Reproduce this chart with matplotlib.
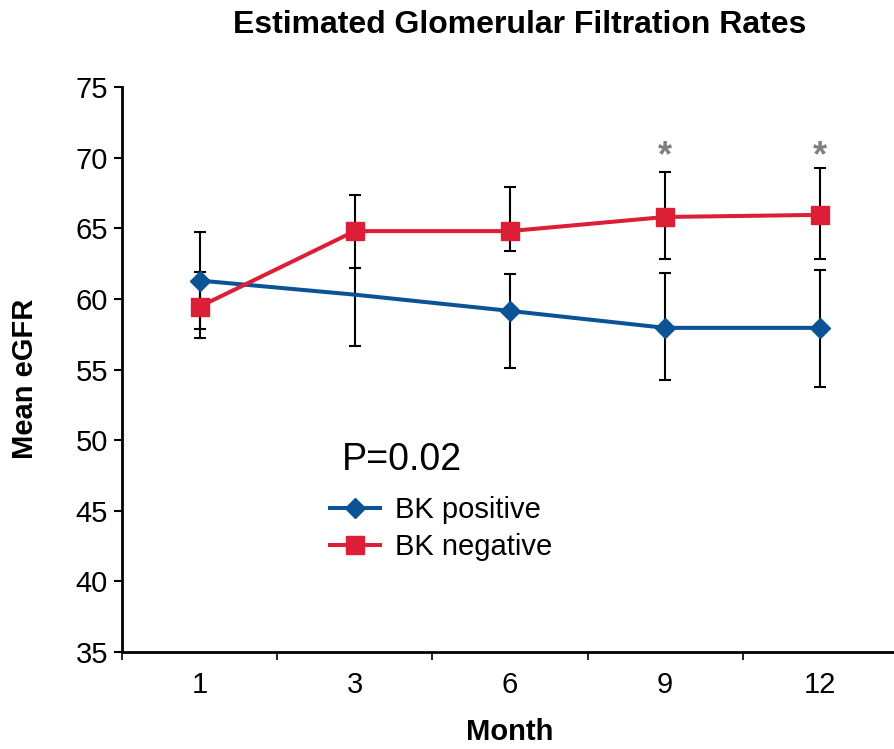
import matplotlib.pyplot as plt
import numpy as np

plt.rcParams['font.family'] = ['Liberation Sans', 'DejaVu Sans']

months = ['1', '3', '6', '9', '12']
bk_pos = [61.3, 60.3, 59.15, 57.95, 57.95]
bk_pos_lo = [3.45, 3.65, 4.05, 3.7, 4.2]
bk_pos_hi = [3.45, 1.9, 2.6, 3.9, 4.1]
bk_neg = [59.45, 64.8, 64.8, 65.8, 65.95]
bk_neg_lo = [2.25, 2.6, 1.4, 2.95, 3.1]
bk_neg_hi = [2.45, 2.55, 3.1, 3.2, 3.3]
sig_months = [3, 4]

blue = '#0b5394'
red = '#dc1f36'
x = np.arange(len(months))

fig = plt.figure(figsize=(8.95, 7.49), dpi=100)
ax = fig.add_axes([0.1363, 0.1295, 0.867, 0.7543])

ax.errorbar(x, bk_pos, yerr=[bk_pos_lo, bk_pos_hi], fmt='none', ecolor='black',
            elinewidth=1.5, capsize=4.3, capthick=1.5, zorder=1)
ax.errorbar(x, bk_neg, yerr=[bk_neg_lo, bk_neg_hi], fmt='none', ecolor='black',
            elinewidth=1.5, capsize=4.3, capthick=1.5, zorder=1)
ax.plot(x, bk_pos, '-D', color=blue, lw=2.9, ms=10.5, markevery=[0, 2, 3, 4],
        label='BK positive', zorder=2)
ax.plot(x, bk_neg, '-s', color=red, lw=2.9, ms=13.5, label='BK negative', zorder=3)

for i in sig_months:
    ax.text(x[i], 70.1, '*', color='#808080', fontsize=26, fontweight='bold',
            ha='center', va='center')

ax.text(0.92, 48.6, 'P=0.02', fontsize=27, ha='left', va='center')

ax.set_xlim(-0.5, 4.5)
ax.set_ylim(35, 75)
ax.set_yticks(np.arange(35, 76, 5))
ax.set_xticks(x)
ax.set_xticklabels(months)
ax.set_xticks(np.arange(-0.5, 4.0, 1), minor=True)
ax.tick_params(axis='x', which='major', length=0, labelsize=21, pad=14)
ax.tick_params(axis='x', which='minor', length=6, width=1.2, direction='out')
ax.tick_params(axis='y', length=6, width=1.5, labelsize=21, pad=4)

for s in ['top', 'right']:
    ax.spines[s].set_visible(False)
for s in ['left', 'bottom']:
    ax.spines[s].set_linewidth(2)

ax.set_xlabel('Month', fontsize=21, fontweight='bold', labelpad=13)
ax.set_ylabel('Mean eGFR', fontsize=21, fontweight='bold')
ax.yaxis.set_label_coords(-0.107, 0.483)
fig.text(0.581, 0.966, 'Estimated Glomerular Filtration Rates', fontsize=23,
         fontweight='bold', ha='center', va='center')

ax.legend(loc='center left', bbox_to_anchor=(0.268, 0.218), frameon=False,
          fontsize=21, handlelength=1.7, handletextpad=0.52, labelspacing=0.3,
          borderaxespad=0, borderpad=0)

fig.savefig('out.png', dpi=100)
